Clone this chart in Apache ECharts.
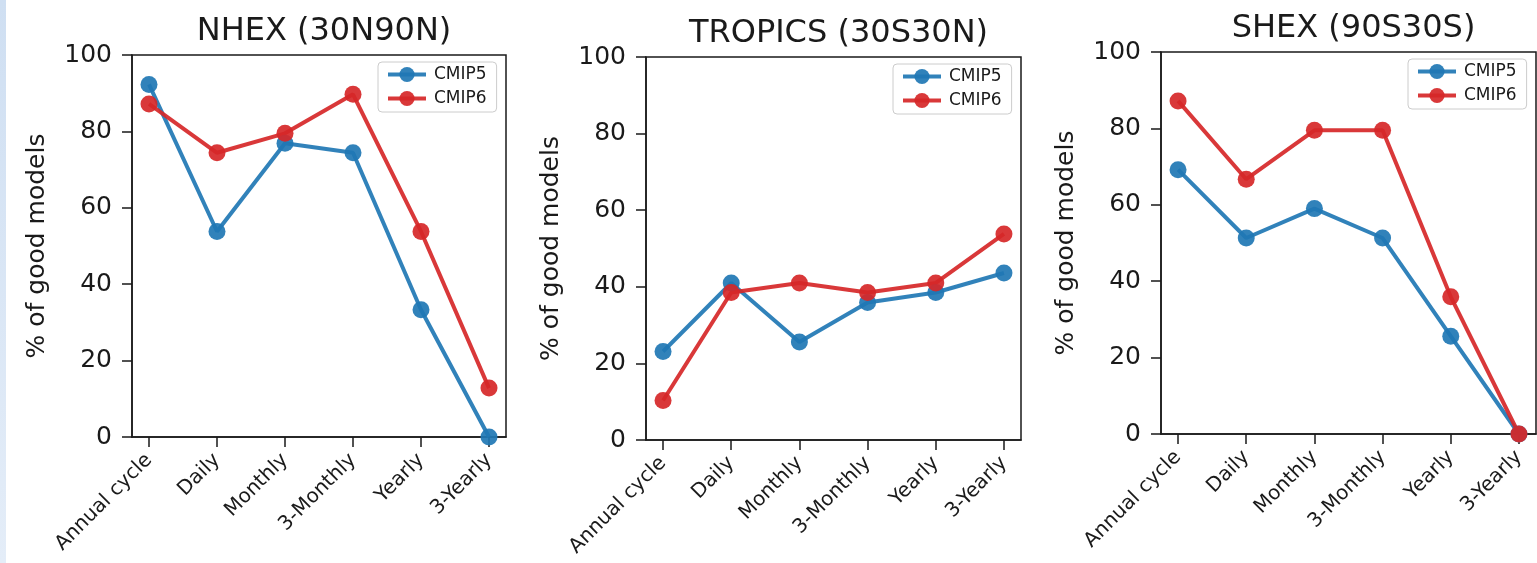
<!DOCTYPE html>
<html>
<head>
<meta charset="utf-8">
<script src="https://cdn.jsdelivr.net/npm/echarts@6/dist/echarts.min.js"></script>
<style>
  html, body { margin: 0; padding: 0; background: #ffffff; }
  #strip { position: absolute; left: 0; top: 0; width: 6px; height: 563px;
           background: linear-gradient(to bottom, #cfdff2, #e4edf8); }
  #chart { position: absolute; left: 0; top: 0; width: 1537px; height: 563px; }
</style>
</head>
<body>
<div id="chart"></div>
<div id="strip"></div>
<script>
// ---- data ----
const categories = ['Annual cycle', 'Daily', 'Monthly', '3-Monthly', 'Yearly', '3-Yearly'];
const panelTitles = ['NHEX (30N90N)', 'TROPICS (30S30N)', 'SHEX (90S30S)'];
const seriesNames = ['CMIP5', 'CMIP6'];
const nhexCmip5 = [92.3, 53.8, 76.9, 74.4, 33.3, 0];
const nhexCmip6 = [87.2, 74.4, 79.5, 89.7, 53.8, 12.8];
const tropicsCmip5 = [23.1, 41.0, 25.6, 35.9, 38.5, 43.6];
const tropicsCmip6 = [10.3, 38.5, 41.0, 38.5, 41.0, 53.8];
const shexCmip5 = [69.2, 51.3, 59.0, 51.3, 25.6, 0];
const shexCmip6 = [87.2, 66.7, 79.5, 79.5, 35.9, 0];
const yAxisName = '% of good models';
const yMin = 0, yMax = 100, yStep = 20;

// ---- layout / style ----
const panels = [
  { left: 132, top: 55, width: 374, height: 382, data: [nhexCmip5, nhexCmip6] },
  { left: 646, top: 57, width: 375, height: 383, data: [tropicsCmip5, tropicsCmip6] },
  { left: 1161, top: 52, width: 375, height: 382, data: [shexCmip5, shexCmip6] }
];
const colors = ['rgba(31,119,180,0.92)', 'rgba(214,39,40,0.92)'];
const font = 'DejaVu Sans';
const ink = '#1a1a1a';
const catIdx = categories.map((c, i) => i);

const option = {
  animation: false,
  backgroundColor: '#ffffff',
  title: [], grid: [], xAxis: [], yAxis: [], legend: [], series: []
};

panels.forEach((p, k) => {
  option.grid.push({
    left: p.left, top: p.top, width: p.width, height: p.height,
    show: true, borderColor: ink, borderWidth: 1.5, backgroundColor: 'transparent',
    containLabel: false
  });
  option.title.push({
    text: panelTitles[k],
    left: p.left + p.width / 2, top: p.top - 44,
    textAlign: 'center',
    textStyle: { fontFamily: font, fontSize: 32, fontWeight: 'normal', color: ink, lineHeight: 32 }
  });
  option.xAxis.push({
    type: 'value', gridIndex: k, min: -0.25, max: categories.length - 0.75,
    splitLine: { show: false },
    axisLine: { show: true, onZero: false, lineStyle: { color: ink, width: 1.5 } },
    axisTick: { show: true, length: 10, customValues: catIdx, lineStyle: { color: ink, width: 1.5 } },
    axisLabel: {
      customValues: catIdx, rotate: 45, margin: 20,
      formatter: v => categories[Math.round(v)],
      fontFamily: font, fontSize: 20, color: ink
    }
  });
  option.yAxis.push({
    type: 'value', gridIndex: k, min: yMin, max: yMax, interval: yStep,
    name: yAxisName, nameLocation: 'middle', nameRotate: 90, nameGap: 82,
    nameTextStyle: { fontFamily: font, fontSize: 25, color: ink },
    splitLine: { show: false },
    axisLine: { show: true, onZero: false, lineStyle: { color: ink, width: 1.5 } },
    axisTick: { show: true, length: 10, lineStyle: { color: ink, width: 1.5 } },
    axisLabel: { margin: 20, fontFamily: font, fontSize: 25, color: ink }
  });
  option.legend.push({
    orient: 'vertical',
    left: p.left + p.width - 128, top: p.top + 7,
    data: seriesNames,
    itemWidth: 38, itemHeight: 19, itemGap: 7,
    padding: [4, 10, 5, 8],
    borderColor: '#cccccc', borderWidth: 1, borderRadius: 4,
    backgroundColor: 'rgba(255,255,255,0.8)',
    selectedMode: false,
    lineStyle: { width: 4 },
    textStyle: { fontFamily: font, fontSize: 17, color: ink, padding: [0, 0, 0, 3] }
  });
  seriesNames.forEach((name, s) => {
    option.series.push({
      type: 'line', name: name, xAxisIndex: k, yAxisIndex: k,
      data: p.data[s].map((v, i) => [i, v]),
      symbol: 'circle', symbolSize: 17, showSymbol: true,
      lineStyle: { color: colors[s], width: 4 },
      itemStyle: { color: colors[s], borderWidth: 0 },
      clip: false
    });
  });
});

const chart = echarts.init(document.getElementById('chart'), null, { renderer: 'canvas' });
chart.setOption(option);
</script>
</body>
</html>
